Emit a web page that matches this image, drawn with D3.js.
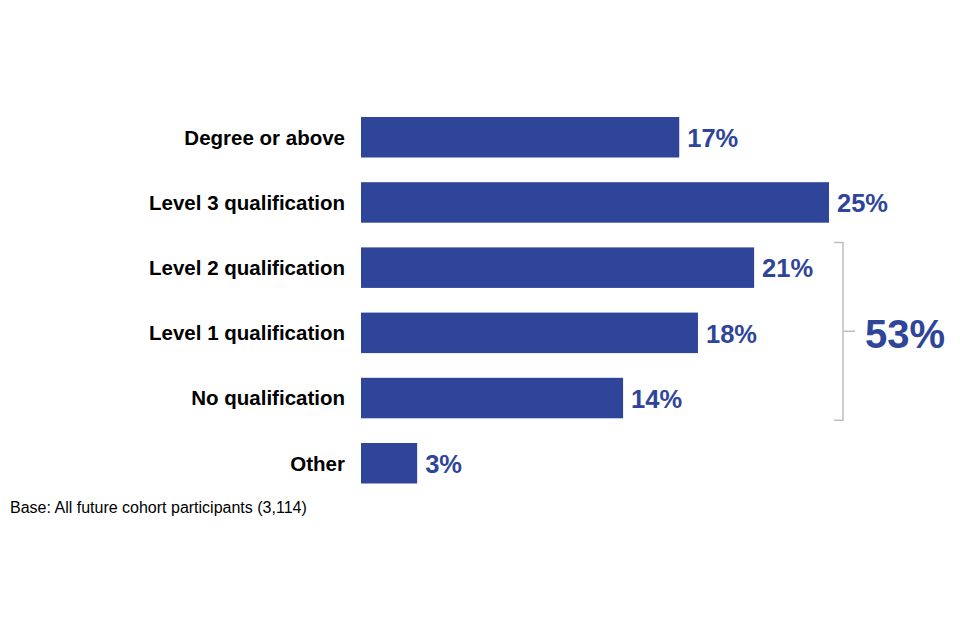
<!DOCTYPE html>
<html>
<head>
<meta charset="utf-8">
<script src="https://cdn.jsdelivr.net/npm/d3@7"></script>
<style>
  html, body { margin: 0; padding: 0; background: #ffffff; }
  svg { display: block; }
</style>
</head>
<body>
<script>
const categories = ["Degree or above", "Level 3 qualification", "Level 2 qualification", "Level 1 qualification", "No qualification", "Other"];
const values = [17, 25, 21, 18, 14, 3];
const bracketCategories = ["Level 2 qualification", "No qualification"];
const bracketLabel = "53%";
const baseNote = "Base: All future cohort participants (3,114)";

const W = 960, H = 640;
const barColor = "#2E4599";
const font = "'Liberation Sans', Arial, Helvetica, sans-serif";

const svg = d3.select("body").append("svg").attr("width", W).attr("height", H);

const x = d3.scaleLinear().domain([0, 25]).range([361, 829]);
const y = d3.scaleBand().domain(categories).range([117, 483.5]).paddingInner(24.7 / 65.2).paddingOuter(0);

// bars
svg.selectAll("rect.bar").data(categories).enter().append("rect")
  .attr("class", "bar")
  .attr("x", x(0))
  .attr("y", d => y(d))
  .attr("width", (d, i) => x(values[i]) - x(0))
  .attr("height", y.bandwidth())
  .attr("fill", barColor);

// category labels
svg.selectAll("text.cat").data(categories).enter().append("text")
  .attr("class", "cat")
  .attr("x", x(0) - 16)
  .attr("y", d => y(d) + y.bandwidth() / 2)
  .attr("dy", "0.36em")
  .attr("text-anchor", "end")
  .attr("font-family", font)
  .attr("font-weight", "bold")
  .attr("font-size", 20.5)
  .attr("fill", "#000")
  .text(d => d);

// value labels
svg.selectAll("text.val").data(categories).enter().append("text")
  .attr("class", "val")
  .attr("x", (d, i) => x(values[i]) + 8)
  .attr("y", d => y(d) + y.bandwidth() / 2)
  .attr("dy", "0.38em")
  .attr("font-family", font)
  .attr("font-weight", "bold")
  .attr("font-size", 25.5)
  .attr("fill", barColor)
  .text((d, i) => values[i] + "%");

// bracket
const bTop = y(bracketCategories[0]) - 5;
const bBot = y(bracketCategories[1]) + y.bandwidth() + 2;
const bx = 843, hook = 9, tick = 12;
const bMid = (bTop + bBot) / 2;
svg.append("path")
  .attr("d", `M${bx - hook},${bTop} L${bx},${bTop} L${bx},${bBot} L${bx - hook},${bBot} M${bx},${bMid} L${bx + tick},${bMid}`)
  .attr("fill", "none")
  .attr("stroke", "#BFBFBF")
  .attr("stroke-width", 1.5);

svg.append("text")
  .attr("x", 865)
  .attr("y", bMid + 2)
  .attr("dy", "0.36em")
  .attr("font-family", font)
  .attr("font-weight", "bold")
  .attr("font-size", 40)
  .attr("fill", barColor)
  .text(bracketLabel);

// base note
svg.append("text")
  .attr("x", 10)
  .attr("y", 513)
  .attr("font-family", font)
  .attr("font-size", 16)
  .attr("fill", "#000")
  .text(baseNote);
</script>
</body>
</html>
